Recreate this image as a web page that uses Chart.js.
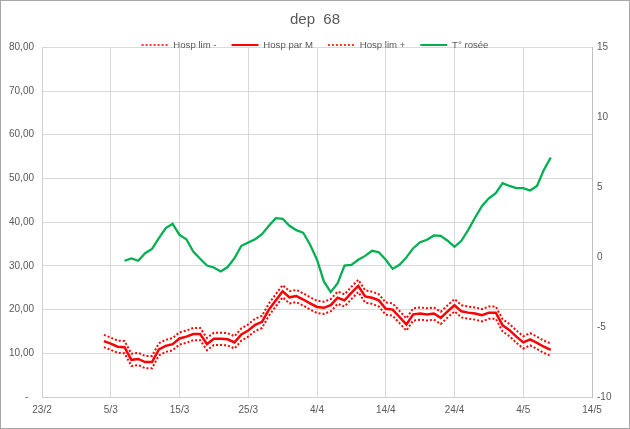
<!DOCTYPE html>
<html>
<head>
<meta charset="utf-8">
<script src="https://cdn.jsdelivr.net/npm/chart.js@4.4.1/dist/chart.umd.min.js"></script>
<style>
html,body{margin:0;padding:0;background:#fff;}
#wrap{position:relative;width:630px;height:429px;}
</style>
</head>
<body>
<div id="wrap"><canvas id="c" width="630" height="429"></canvas></div>
<script>
// ---- data ----
const year = 2021;
const axisStart = "23/2";
const xTickLabels = ["23/2","5/3","15/3","25/3","4/4","14/4","24/4","4/5","14/5"];
const dates = ["4/3","5/3","6/3","7/3","8/3","9/3","10/3","11/3","12/3","13/3","14/3","15/3","16/3","17/3","18/3","19/3","20/3","21/3","22/3","23/3","24/3","25/3","26/3","27/3","28/3","29/3","30/3","31/3",
"1/4","2/4","3/4","4/4","5/4","6/4","7/4","8/4","9/4","10/4","11/4","12/4","13/4","14/4","15/4","16/4","17/4","18/4","19/4","20/4","21/4","22/4","23/4","24/4","25/4","26/4","27/4","28/4","29/4","30/4",
"1/5","2/5","3/5","4/5","5/5","6/5","7/5","8/5"];
const hospLimMinus = [11.4,10.8,10.1,10.0,7.1,7.3,6.6,6.6,9.5,10.3,10.7,12.0,12.4,13.0,13.0,10.7,11.9,11.9,11.8,11.1,12.9,13.8,15.1,15.8,18.6,20.7,22.8,21.4,21.7,20.9,20.0,19.2,19.0,19.6,21.3,20.7,22.4,24.0,21.6,21.3,20.7,18.8,18.6,16.9,15.2,17.5,17.7,17.5,17.7,16.7,18.2,19.6,18.2,17.9,17.7,17.3,17.9,17.9,15.0,13.9,12.4,11.1,11.8,11.0,10.1,9.4];
const hospParM = [12.8,12.2,11.5,11.4,8.5,8.7,8.0,8.0,10.9,11.7,12.1,13.4,13.8,14.4,14.4,12.1,13.3,13.3,13.2,12.5,14.3,15.2,16.5,17.2,20.0,22.1,24.2,22.8,23.1,22.3,21.4,20.6,20.4,21.0,22.7,22.1,23.8,25.4,23.0,22.7,22.1,20.2,20.0,18.3,16.6,18.9,19.1,18.9,19.1,18.1,19.6,21.0,19.6,19.3,19.1,18.7,19.3,19.3,16.4,15.3,13.8,12.5,13.2,12.4,11.5,10.8];
const hospLimPlus = [14.2,13.6,12.9,12.8,9.9,10.1,9.4,9.4,12.3,13.1,13.5,14.8,15.2,15.8,15.8,13.5,14.7,14.7,14.6,13.9,15.7,16.6,17.9,18.6,21.4,23.5,25.6,24.2,24.5,23.7,22.8,22.0,21.8,22.4,24.1,23.5,25.2,26.8,24.4,24.1,23.5,21.6,21.4,19.7,18.0,20.3,20.5,20.3,20.5,19.5,21.0,22.4,21.0,20.7,20.5,20.1,20.7,20.7,17.8,16.7,15.2,13.9,14.6,13.8,12.9,12.2];
const tRosee = [null,null,null,-0.26,-0.1,-0.26,0.28,0.59,1.35,2.07,2.38,1.59,1.28,0.4,-0.12,-0.6,-0.74,-1.03,-0.71,-0.07,0.81,1.05,1.28,1.64,2.24,2.78,2.74,2.24,1.93,1.74,0.88,-0.19,-1.74,-2.5,-1.86,
-0.6,-0.55,-0.19,0.09,0.45,0.35,-0.19,-0.84,-0.55,-0.02,0.64,1.07,1.24,1.55,1.52,1.17,0.74,1.17,1.95,2.83,3.66,4.21,4.57,5.29,5.09,4.93,4.93,4.76,5.09,6.24,7.12];
const seriesNames = ["Hosp lim -","Hosp par M","Hosp lim +","T° rosée"];
const titleText = "dep  68";

// ---- helpers ----
function dayNum(s){ const [d,m] = s.split('/').map(Number); return Date.UTC(year, m-1, d)/86400000; }
const day0 = dayNum(axisStart);
function pts(vals){ return dates.map((d,i)=>({x: dayNum(d)-day0, y: vals[i]})); }

const FONT = "'Liberation Sans', Arial, sans-serif";
const GREY = '#595959';

const frame = {
  id:'frame',
  beforeDraw(chart){
    const c = chart.ctx;
    c.save();
    c.fillStyle = '#fff'; c.fillRect(0,0,chart.width,chart.height);
    c.strokeStyle = '#a6a6a6'; c.lineWidth = 1;
    c.strokeRect(0.5,0.5,chart.width-1,chart.height-1);
    c.restore();
  }
};
const legendShift = {
  id:'legendShift',
  afterLayout(chart){
    const lg = chart.legend;
    const pad = lg.options.labels.padding;
    const fs = lg.options.labels.font.size;
    const target = 45;
    const dy = target - (lg.top + pad + fs/2);
    lg.top += dy; lg.bottom += dy;
  }
};

new Chart(document.getElementById('c'), {
  type: 'line',
  data: {
    datasets: [
      {label: seriesNames[0], data: pts(hospLimMinus), borderColor:'#ff0000', borderWidth:2, borderDash:[2,2], pointRadius:0, tension:0, yAxisID:'y'},
      {label: seriesNames[1], data: pts(hospParM), borderColor:'#ff0000', borderWidth:2.5, pointRadius:0, tension:0, yAxisID:'y'},
      {label: seriesNames[2], data: pts(hospLimPlus), borderColor:'#ff0000', borderWidth:2, borderDash:[2,2], pointRadius:0, tension:0, yAxisID:'y'},
      {label: seriesNames[3], data: pts(tRosee), borderColor:'#00b050', borderWidth:2.25, pointRadius:0, tension:0, yAxisID:'y2'}
    ]
  },
  options: {
    responsive: false,
    animation: false,
    layout: {padding: 0},
    plugins: {
      tooltip: {enabled:false},
      title: {display:true, text:titleText, color:GREY, font:{family:FONT, size:15, weight:'normal'}, padding:{top:11, bottom:-16.3}},
      legend: {
        display:true, position:'top',
        labels: {usePointStyle:true, pointStyle:'line', pointStyleWidth:27, color:GREY, font:{family:FONT, size:9.6}, padding:15,
          generateLabels(chart){
            const items = Chart.defaults.plugins.legend.labels.generateLabels(chart);
            items.forEach(it => {
              const ds = chart.data.datasets[it.datasetIndex];
              it.lineDash = ds.borderDash || [];
              it.lineWidth = ds.borderDash ? 1.6 : 2;
              it.strokeStyle = ds.borderColor;
              it.fillStyle = ds.borderColor;
            });
            return items;
          }}
      }
    },
    scales: {
      x: {
        type:'linear', min:0, max:80,
        afterFit(s){ s.height = 32; },
        afterBuildTicks(s){ s.ticks = xTickLabels.map(l => ({value: dayNum(l) - day0})); },
        ticks:{stepSize:10, color:GREY, font:{family:FONT, size:10}, padding:7, maxRotation:0, autoSkip:false,
          callback(v){ const i = xTickLabels.findIndex(l => dayNum(l)-day0 === v); return i>=0 ? xTickLabels[i] : ''; }},
        grid:{color:'#d9d9d9', drawTicks:false},
        border:{color:'#d0d0d0'}
      },
      y: {
        position:'left', min:0, max:80,
        afterFit(s){ s.width = 42; },
        ticks:{stepSize:10, color:GREY, font:{family:FONT, size:10}, padding:8,
          callback(v){ return v === 0 ? '-  ' : v.toFixed(2).replace('.', ','); }},
        grid:{color:'#d9d9d9', drawTicks:false},
        border:{color:'#d0d0d0'}
      },
      y2: {
        position:'right', min:-10, max:15,
        afterFit(s){ s.width = 38; },
        ticks:{stepSize:5, color:GREY, font:{family:FONT, size:10}, padding:5},
        grid:{drawOnChartArea:false, drawTicks:false},
        border:{color:'#bfbfbf'}
      }
    }
  },
  plugins:[frame, legendShift]
});
</script>
</body>
</html>
